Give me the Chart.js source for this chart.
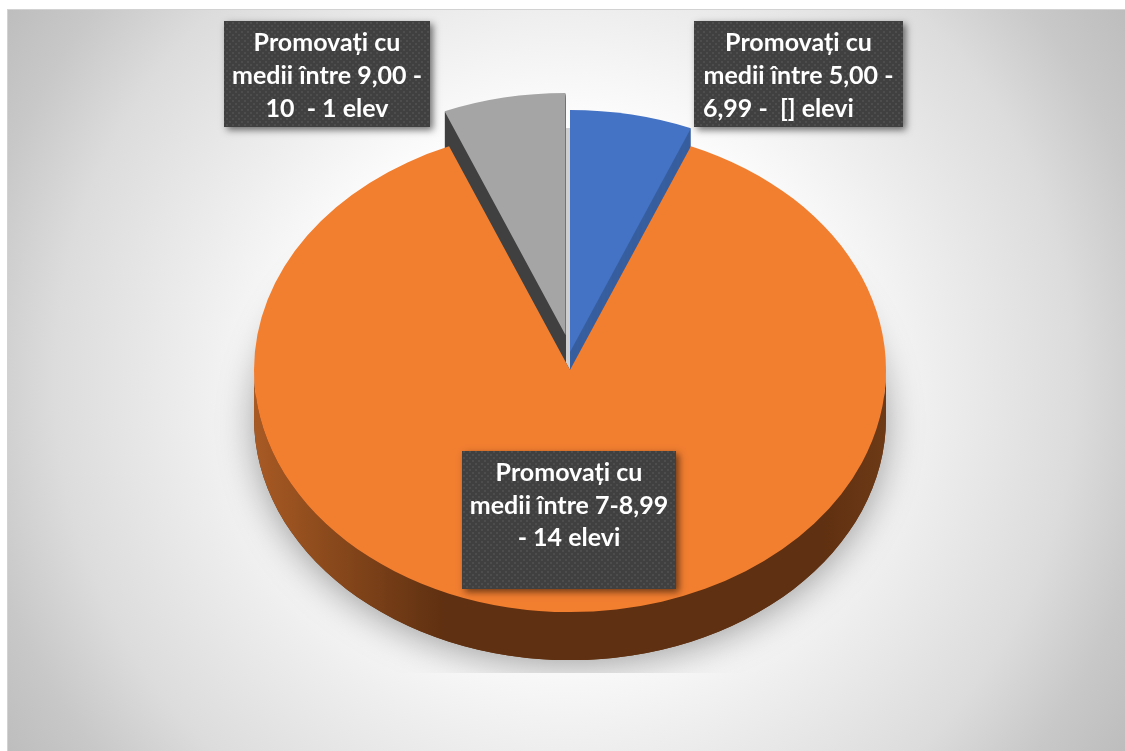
<!DOCTYPE html>
<html lang="ro">
<head>
<meta charset="utf-8">
<title>Promovați</title>
<script src="https://cdn.jsdelivr.net/npm/chart.js@4"></script>
<style>
html,body{margin:0;padding:0;background:#fff;width:1125px;height:751px;overflow:hidden}
#panel{position:absolute;left:7px;top:9px;width:1118px;height:742px;box-sizing:border-box;border-left:1px solid #d2d2d2;border-top:1px solid #d2d2d2;
background:radial-gradient(circle 672px at 557px 370px,#ffffff 0%,#ffffff 36%,#eeeeee 55%,#dcdcdc 76%,#c8c8c8 89%,#bdbdbd 100%)}
canvas{position:absolute;left:0;top:0}
</style>
</head>
<body>
<div id="panel"></div>
<canvas id="c" width="1125" height="751"></canvas>
<script>
const categories = ["Promovați cu medii între 5,00 - 6,99", "Promovați cu medii între 7-8,99", "Promovați cu medii între 9,00 - 10"];
const values = [1, 14, 1];
const faceColors = ["#4472c4", "#f27e30", "#a5a5a5"];
const wallColors = ["#375f9f", "#5f3011", "#404040"];
const labelLines = [
  ["Promovați cu", "medii între 5,00 -", "6,99 -  [] elevi"],
  ["Promovați cu", "medii între 7-8,99", "- 14 elevi"],
  ["Promovați cu", "medii între 9,00 -", "10  - 1 elev"]
];

const TILT = 0.766, DEPTH = 48;
const explode = [[0, -18], [0, 0], [-4.5, -35]];
const boxes = [
  {x: 694, y: 21, w: 209, h: 106, lineY: [43, 76, 109], leftLast: 703},
  {x: 462, y: 451, w: 214, h: 138, lineY: [473, 506, 538]},
  {x: 224, y: 21, w: 206, h: 106, lineY: [43, 76, 109]}
];

function dotPattern(ctx) {
  const t = document.createElement("canvas");
  t.width = 6; t.height = 6;
  const c = t.getContext("2d");
  c.fillStyle = "#404040"; c.fillRect(0, 0, 6, 6);
  c.fillStyle = "#4d4d4d";
  c.fillRect(1, 1, 2, 2);
  c.fillRect(4, 4, 2, 2);
  return ctx.createPattern(t, "repeat");
}

function slicePath(ctx, arc, dx, dy) {
  ctx.beginPath();
  const r = arc.outerRadius;
  ctx.moveTo(arc.x + dx, arc.y + dy);
  ctx.ellipse(arc.x + dx, arc.y + dy, r, r * TILT, 0, arc.startAngle, arc.endAngle);
  ctx.closePath();
}

const pie3d = {
  id: "pie3d",
  beforeDatasetDraw(chart) {
    const ctx = chart.ctx;
    const arcs = chart.getDatasetMeta(0).data;
    const big = arcs[1];
    const r = big.outerRadius, cx = big.x, cy = big.y, ry = r * TILT;

    // soft ground shadow, cut off at the plot's lower edge
    ctx.save();
    ctx.beginPath(); ctx.rect(0, 0, 1125, 673); ctx.clip();
    ctx.shadowColor = "rgba(0,0,0,0.36)";
    ctx.shadowBlur = 36;
    ctx.shadowOffsetY = 6;
    ctx.fillStyle = wallColors[1];
    ctx.beginPath();
    ctx.ellipse(cx, cy + DEPTH, r, ry, 0, 0, Math.PI * 2);
    ctx.fill();
    ctx.restore();

    // floor seen through the gap between the lifted slices
    ctx.fillStyle = "#cfcfcf";
    slicePath(ctx, arcs[2], 0, 0); ctx.fill();
    slicePath(ctx, arcs[0], 0, 0); ctx.fill();

    // side walls of the lifted slices
    [0, 2].forEach(i => {
      const [dx, dy] = explode[i];
      ctx.fillStyle = wallColors[i];
      for (let t = DEPTH; t > 0; t -= 1) { slicePath(ctx, arcs[i], dx, dy + t); ctx.fill(); }
    });

    // outer wall of the large slice
    const g = ctx.createLinearGradient(cx - r, 0, cx + r, 0);
    g.addColorStop(0, "#a85a24");
    g.addColorStop(0.1, "#8f4c1d");
    g.addColorStop(0.3, "#5f3011");
    g.addColorStop(0.9, "#5f3011");
    g.addColorStop(1, "#6e3a16");
    ctx.fillStyle = g;
    ctx.beginPath();
    ctx.ellipse(cx, cy + DEPTH, r, ry, 0, 0, Math.PI);
    ctx.ellipse(cx, cy, r, ry, 0, Math.PI, 0, true);
    ctx.closePath();
    ctx.fill();

    // top faces, drawn by the library's own arc elements
    [1, 0, 2].forEach(i => {
      const [dx, dy] = explode[i];
      ctx.save();
      ctx.translate(arcs[i].x + dx, arcs[i].y + dy);
      ctx.scale(1, TILT);
      ctx.translate(-arcs[i].x, -arcs[i].y);
      arcs[i].draw(ctx);
      ctx.restore();
    });
    return false;
  },
  afterDatasetsDraw(chart) {
    const ctx = chart.ctx;
    const pat = dotPattern(ctx);
    boxes.forEach((b, i) => {
      ctx.save();
      ctx.shadowColor = "rgba(0,0,0,0.55)";
      ctx.shadowBlur = 7;
      ctx.shadowOffsetX = 3;
      ctx.shadowOffsetY = 3;
      ctx.fillStyle = "#404040";
      ctx.fillRect(b.x, b.y, b.w, b.h);
      ctx.restore();
      ctx.fillStyle = pat;
      ctx.fillRect(b.x, b.y, b.w, b.h);
      ctx.fillStyle = "#ffffff";
      ctx.font = "bold 25px Lato";
      ctx.textBaseline = "middle";
      labelLines[i].forEach((line, j) => {
        if (b.leftLast && j === 2) {
          ctx.textAlign = "left";
          ctx.fillText(line, b.leftLast, b.lineY[j]);
        } else {
          ctx.textAlign = "center";
          ctx.fillText(line, b.x + b.w / 2, b.lineY[j]);
        }
      });
    });
  }
};

new Chart(document.getElementById("c"), {
  type: "pie",
  data: {
    labels: categories,
    datasets: [{data: values, backgroundColor: faceColors, borderWidth: 0}]
  },
  options: {
    responsive: false,
    animation: false,
    events: [],
    layout: {padding: {left: 254, right: 239, top: 54, bottom: 65}},
    plugins: {legend: {display: false}, tooltip: {enabled: false}, title: {display: false}}
  },
  plugins: [pie3d]
});
</script>
</body>
</html>
